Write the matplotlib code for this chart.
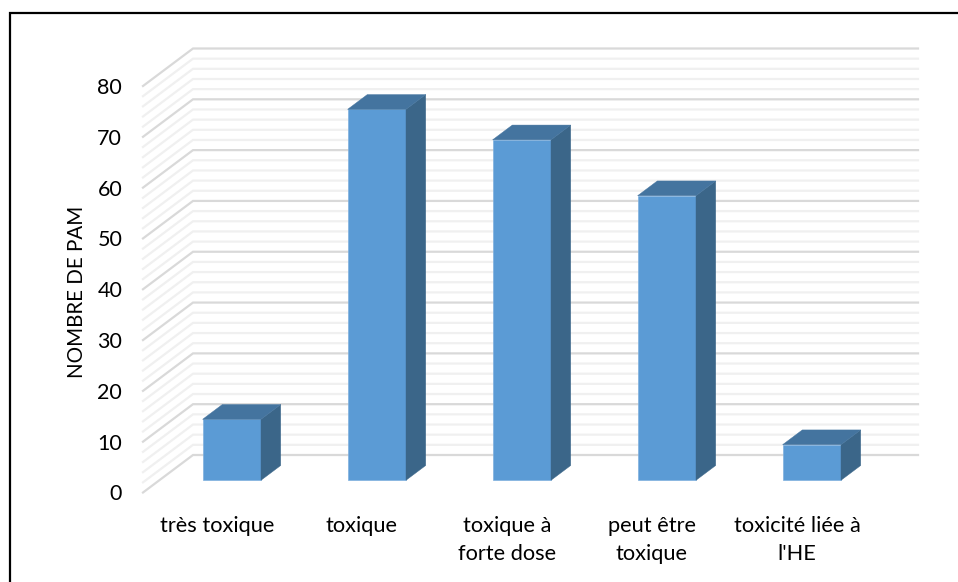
import matplotlib
matplotlib.use("Agg")
import matplotlib.pyplot as plt
from matplotlib.patches import Polygon
from matplotlib.lines import Line2D
from matplotlib.transforms import ScaledTranslation

categories = ["très toxique", "toxique", "toxique à\nforte dose", "peut être\ntoxique", "toxicité liée à\nl'HE"]
values = [12, 73, 67, 56, 7]
major_ticks = [0, 10, 20, 30, 40, 50, 60, 70, 80]
minor_ticks = [v for v in range(0, 81, 2) if v % 10]
y_title = "NOMBRE DE PAM"

W, H = 958, 582
plt.rcParams["font.family"] = ["Lato", "DejaVu Sans"]
fig = plt.figure(figsize=(W / 100, H / 100), dpi=100, facecolor="white")

# front plane of the plot box, in pixels
L, R, B, T = 143, 868, 492.5, 86
ax = fig.add_axes([L / W, 1 - B / H, (R - L) / W, (B - T) / H])
ax.set_xlim(-0.5, 4.5)
ax.set_ylim(0, 80)
ax.patch.set_alpha(0)
for s in ax.spines.values():
    s.set_visible(False)

ux = (R - L) / 5      # px per category
uy = (B - T) / 80     # px per value


def pt(x, y, d):
    """Data position shifted by depth d (pixels along x; y follows at 0.75 ratio)."""
    return (x + d / ux, y + 0.75 * d / uy)


WALL = 50
for v, col, lw, z in [(m, "#f0f0f0", 1.6, 1) for m in minor_ticks] + [(m, "#d9d9d9", 1.6, 2) for m in major_ticks]:
    ax.plot(*zip(pt(-0.5, v, 0), pt(-0.5, v, WALL), pt(4.5, v, WALL)), color=col, lw=lw, zorder=z,
            clip_on=False, solid_joinstyle="miter")

FRONT, SIDE, TOP = "#5b9bd5", "#3b6689", "#44749f"
half = 29.2 / ux
d0, d1 = 16.3, 36
for i, v in enumerate(values):
    xl, xr = i - half, i + half
    ax.add_patch(Polygon([pt(xl, 0, d0), pt(xr, 0, d0), pt(xr, v, d0), pt(xl, v, d0)],
                         fc=FRONT, ec="#7fb0de", lw=0.5, zorder=5, clip_on=False))
    ax.add_patch(Polygon([pt(xr, 0, d0), pt(xr, 0, d1), pt(xr, v, d1), pt(xr, v, d0)],
                         fc=SIDE, ec=SIDE, lw=0.3, zorder=5, clip_on=False))
    ax.add_patch(Polygon([pt(xl, v, d0), pt(xr, v, d0), pt(xr, v, d1), pt(xl, v, d1)],
                         fc=TOP, ec=TOP, lw=0.3, zorder=5, clip_on=False))

ax.set_yticks(major_ticks)
ax.set_yticklabels([str(m) for m in major_ticks])
ax.set_xticks(range(len(categories)))
ax.set_xticklabels(categories, linespacing=1.47)
ax.tick_params(axis="both", length=0, labelcolor="black")
ax.tick_params(axis="y", pad=15, labelsize=15.5)
ax.tick_params(axis="x", pad=17, labelsize=15.7)
shift = ScaledTranslation(1.5 / 100, 0, fig.dpi_scale_trans)
for lab in ax.get_xticklabels():
    lab.set_ha("center")
    lab.set_transform(lab.get_transform() + shift)
ax.set_ylabel(y_title, fontsize=14.8)
ax.yaxis.set_label_coords((87 - L) / (R - L), (B - 292) / (B - T))

# black frame: top and left edges only
fig.add_artist(Line2D([9.5 / W, 9.5 / W, 1], [0, 1 - 13 / H, 1 - 13 / H], color="black", lw=1.6,
                      solid_joinstyle="miter"))

fig.savefig("out.png", dpi=100, facecolor="white")
